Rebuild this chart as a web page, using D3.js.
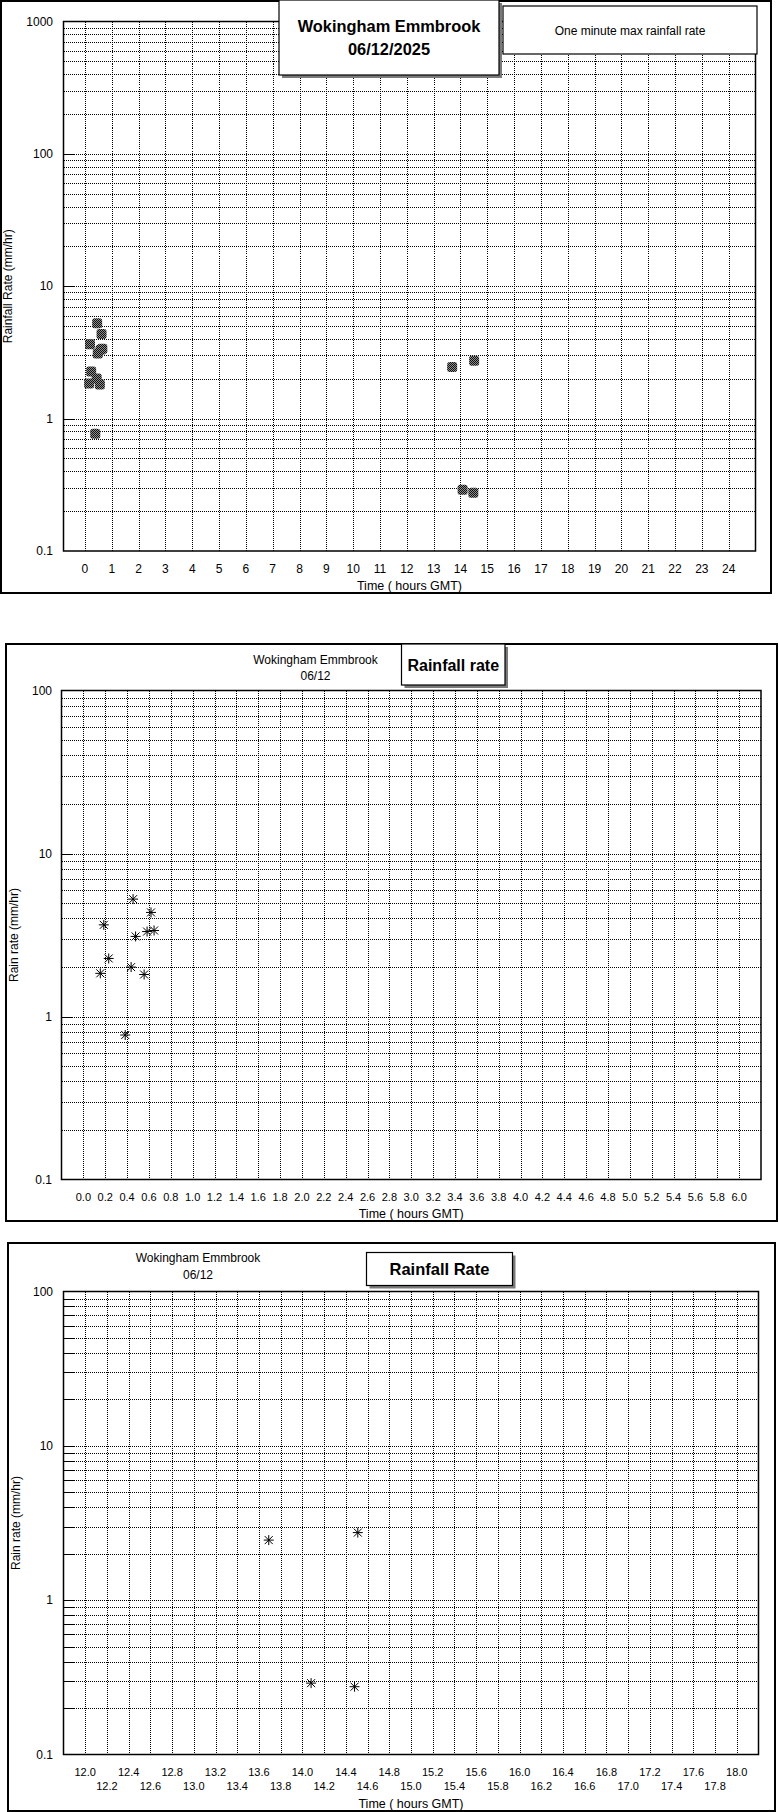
<!DOCTYPE html>
<html>
<head>
<meta charset="utf-8">
<script src="https://cdn.jsdelivr.net/npm/d3@7"></script>
<style>
  html, body { margin: 0; padding: 0; background: #fff; }
  svg { display: block; }
  text { font-family: "Liberation Sans", Arial, sans-serif; fill: #000; }
</style>
</head>
<body>
<svg id="chart" width="779" height="1812"></svg>
<script>
// ---------------- data ----------------
const morningTimes = [0.155, 0.187, 0.232, 0.383, 0.437, 0.455, 0.478, 0.556, 0.583, 0.619, 0.647];
const morningRates = [1.84, 3.65, 2.27, 0.77, 2.01, 5.25, 3.10, 1.81, 3.32, 4.35, 3.37];
const afternoonTimes = [13.69, 14.08, 14.48, 14.51];
const afternoonRates = [2.45, 0.29, 0.275, 2.74];

const dayTicks = [0,1,2,3,4,5,6,7,8,9,10,11,12,13,14,15,16,17,18,19,20,21,22,23,24];
const earlyTicks = ["0.0","0.2","0.4","0.6","0.8","1.0","1.2","1.4","1.6","1.8","2.0","2.2","2.4","2.6","2.8","3.0",
                    "3.2","3.4","3.6","3.8","4.0","4.2","4.4","4.6","4.8","5.0","5.2","5.4","5.6","5.8","6.0"];
const lateTicks = ["12.0","12.2","12.4","12.6","12.8","13.0","13.2","13.4","13.6","13.8","14.0","14.2","14.4","14.6","14.8","15.0",
                   "15.2","15.4","15.6","15.8","16.0","16.2","16.4","16.6","16.8","17.0","17.2","17.4","17.6","17.8","18.0"];
const yTicksDay = ["0.1","1","10","100","1000"];
const yTicksZoom = ["0.1","1","10","100"];

const allTimes = morningTimes.concat(afternoonTimes);
const allRates = morningRates.concat(afternoonRates);

// ---------------- drawing ----------------
const svg = d3.select("#chart");
const defs = svg.append("defs");
const pat = defs.append("pattern").attr("id","chk").attr("width",2).attr("height",2)
  .attr("patternUnits","userSpaceOnUse");
pat.append("rect").attr("width",2).attr("height",2).attr("fill","#8c8c8c");
pat.append("rect").attr("width",1).attr("height",1).attr("fill","#111");
pat.append("rect").attr("x",1).attr("y",1).attr("width",1).attr("height",1).attr("fill","#111");

function asteriskPath(r) {
  const p = d3.path();
  const d = r * 0.8;
  p.moveTo(-r, 0); p.lineTo(r, 0);
  p.moveTo(0, -r); p.lineTo(0, r);
  p.moveTo(-d, -d); p.lineTo(d, d);
  p.moveTo(-d, d); p.lineTo(d, -d);
  return p.toString();
}

function drawPanel(o) {
  const g = svg.append("g");
  // outer frame
  g.append("rect").attr("x", o.frame[0]).attr("y", o.frame[1])
    .attr("width", o.frame[2] - o.frame[0]).attr("height", o.frame[3] - o.frame[1])
    .attr("fill", "#fff").attr("stroke", "#000").attr("stroke-width", 2);

  const x = d3.scaleLinear().domain(o.xDomain).range([o.px0, o.px1]);
  const y = d3.scaleLog().domain(o.yDomain).range([o.py1, o.py0]);

  // horizontal grid lines (1..9 x 10^k)
  const lo = Math.round(Math.log10(o.yDomain[0])), hi = Math.round(Math.log10(o.yDomain[1]));
  const hVals = [];
  for (let d = lo; d < hi; d++) for (let k = 1; k <= 9; k++) hVals.push(k * Math.pow(10, d));
  const grid = g.append("g").attr("stroke", "#000").attr("stroke-width", 1)
    .attr("stroke-dasharray", "1,1").attr("shape-rendering", "crispEdges");
  grid.selectAll("line.h").data(hVals.filter(v => v > o.yDomain[0])).join("line")
    .attr("x1", o.px0).attr("x2", o.px1)
    .attr("y1", d => Math.round(y(d)) + 0.5).attr("y2", d => Math.round(y(d)) + 0.5);
  // vertical grid lines
  grid.selectAll("line.v").data(o.xTicks).join("line")
    .attr("x1", d => Math.round(x(+d)) + 0.5).attr("x2", d => Math.round(x(+d)) + 0.5)
    .attr("y1", o.py0).attr("y2", o.py1);

  // solid ticks on y axis
  const tickVals = o.minorTicks ? hVals : yTicksZoom.map(Number).concat(o.yDomain[1]);
  g.append("g").attr("stroke", "#000").attr("stroke-width", 1.5).attr("shape-rendering", "crispEdges")
    .selectAll("line").data(tickVals.filter(v => v > o.yDomain[0] && v < o.yDomain[1])).join("line")
    .attr("x1", o.px0).attr("x2", o.px0 + 10)
    .attr("y1", d => Math.round(y(d)) + 0.5).attr("y2", d => Math.round(y(d)) + 0.5);

  // plot border
  g.append("rect").attr("x", o.px0).attr("y", o.py0).attr("width", o.px1 - o.px0).attr("height", o.py1 - o.py0)
    .attr("fill", "none").attr("stroke", "#000").attr("stroke-width", 1.5);

  // y tick labels
  g.append("g").selectAll("text").data(o.yLabels).join("text")
    .attr("x", o.yLabelX).attr("y", d => y(+d)).attr("dy", "0.35em")
    .attr("text-anchor", "end").attr("font-size", 12).text(d => d);

  // x tick labels
  g.append("g").selectAll("text").data(o.xTicks).join("text")
    .attr("x", d => x(+d)).attr("y", (d, i) => o.twoRows ? (i % 2 === 0 ? o.xLabelY : o.xLabelY2) : o.xLabelY)
    .attr("dy", "0.35em").attr("text-anchor", "middle").attr("font-size", o.xFont).text(d => d);

  // axis titles
  g.append("text").attr("x", (o.px0 + o.px1) / 2).attr("y", o.xTitleY).attr("dy", "0.35em")
    .attr("text-anchor", "middle").attr("font-size", 12.5).text("Time ( hours GMT)");
  g.append("text").attr("transform", `translate(${o.yTitleX},${(o.py0 + o.py1) / 2}) rotate(-90)`)
    .attr("dy", "0.35em").attr("text-anchor", "middle").attr("font-size", 12).text(o.yTitle);

  // points
  const pts = o.times.map((t, i) => ({ t, r: o.rates[i] }))
    .filter(p => p.t >= o.xDomain[0] && p.t <= o.xDomain[1]);
  if (o.marker === "block") {
    g.append("g").selectAll("rect").data(pts).join("rect")
      .attr("x", d => x(d.t) - 5).attr("y", d => y(d.r) - 5).attr("width", 10).attr("height", 10)
      .attr("rx", 2.5).attr("fill", "url(#chk)");
  } else {
    g.append("g").selectAll("path").data(pts).join("path")
      .attr("transform", d => `translate(${x(d.t)},${y(d.r)})`)
      .attr("d", asteriskPath(5)).attr("stroke", "#000").attr("stroke-width", 1).attr("fill", "none");
  }

  // title boxes
  (o.boxes || []).forEach(b => {
    if (b.shadow) g.append("rect").attr("x", b.x0 + 3).attr("y", b.y0 + 3)
      .attr("width", b.x1 - b.x0).attr("height", b.y1 - b.y0).attr("fill", "#7a7a7a");
    g.append("rect").attr("x", b.x0).attr("y", b.y0).attr("width", b.x1 - b.x0).attr("height", b.y1 - b.y0)
      .attr("fill", "#fff").attr("stroke", "#000").attr("stroke-width", 1.2);
    b.lines.forEach(l => {
      g.append("text").attr("x", (b.x0 + b.x1) / 2).attr("y", l.y).attr("dy", "0.35em")
        .attr("text-anchor", "middle").attr("font-size", l.size).attr("font-weight", l.bold ? "bold" : "normal")
        .text(l.text);
    });
  });
  (o.texts || []).forEach(t => {
    g.append("text").attr("x", t.x).attr("y", t.y).attr("dy", "0.35em").attr("text-anchor", "middle")
      .attr("font-size", t.size).text(t.text);
  });
}

// Panel 1: full day
drawPanel({
  frame: [1, 1, 771, 593],
  px0: 63.5, px1: 755.5, py0: 21.5, py1: 551,
  xDomain: [-0.8, 25], yDomain: [0.1, 1000],
  xTicks: dayTicks.map(String), yLabels: yTicksDay,
  yLabelX: 53, xLabelY: 569, xFont: 12, xTitleY: 586,
  yTitleX: 8, yTitle: "Rainfall Rate (mm/hr)",
  times: allTimes, rates: allRates, marker: "block",
  boxes: [
    { x0: 279, y0: 0, x1: 499, y1: 75, shadow: true,
      lines: [{ text: "Wokingham Emmbrook", y: 26, size: 16.4, bold: true },
              { text: "06/12/2025", y: 49, size: 16.4, bold: true }] },
    { x0: 503, y0: 6, x1: 757, y1: 54, shadow: false,
      lines: [{ text: "One minute max rainfall rate", y: 31, size: 12 }] }
  ]
});

// Panel 2: 0 - 6 hours
drawPanel({
  frame: [6, 644, 777, 1221],
  px0: 61.5, px1: 761, py0: 690.5, py1: 1179.5,
  xDomain: [-0.2, 6.2], yDomain: [0.1, 100],
  xTicks: earlyTicks, yLabels: yTicksZoom,
  yLabelX: 52, xLabelY: 1197, xFont: 11, xTitleY: 1214,
  yTitleX: 14, yTitle: "Rain rate (mm/hr)",
  times: allTimes, rates: allRates, marker: "asterisk",
  texts: [{ text: "Wokingham Emmbrook", x: 315.5, y: 659.5, size: 12 },
          { text: "06/12", x: 315.5, y: 676, size: 12 }],
  boxes: [
    { x0: 401.5, y0: 644, x1: 505, y1: 685, shadow: true,
      lines: [{ text: "Rainfall rate", y: 665, size: 16, bold: true }] }
  ]
});

// Panel 3: 12 - 18 hours
drawPanel({
  frame: [8, 1243, 775, 1811],
  px0: 63.5, px1: 758.5, py0: 1291.5, py1: 1754.5,
  xDomain: [11.8, 18.2], yDomain: [0.1, 100],
  xTicks: lateTicks, yLabels: yTicksZoom, twoRows: true, minorTicks: true,
  yLabelX: 53, xLabelY: 1772, xLabelY2: 1786, xFont: 11, xTitleY: 1804,
  yTitleX: 16, yTitle: "Rain rate (mm/hr)",
  times: allTimes, rates: allRates, marker: "asterisk",
  texts: [{ text: "Wokingham Emmbrook", x: 198, y: 1258, size: 12 },
          { text: "06/12", x: 198, y: 1275, size: 12 }],
  boxes: [
    { x0: 366.5, y0: 1252.5, x1: 512.5, y1: 1285.5, shadow: true,
      lines: [{ text: "Rainfall Rate", y: 1269, size: 16.5, bold: true }] }
  ]
});
</script>
</body>
</html>
